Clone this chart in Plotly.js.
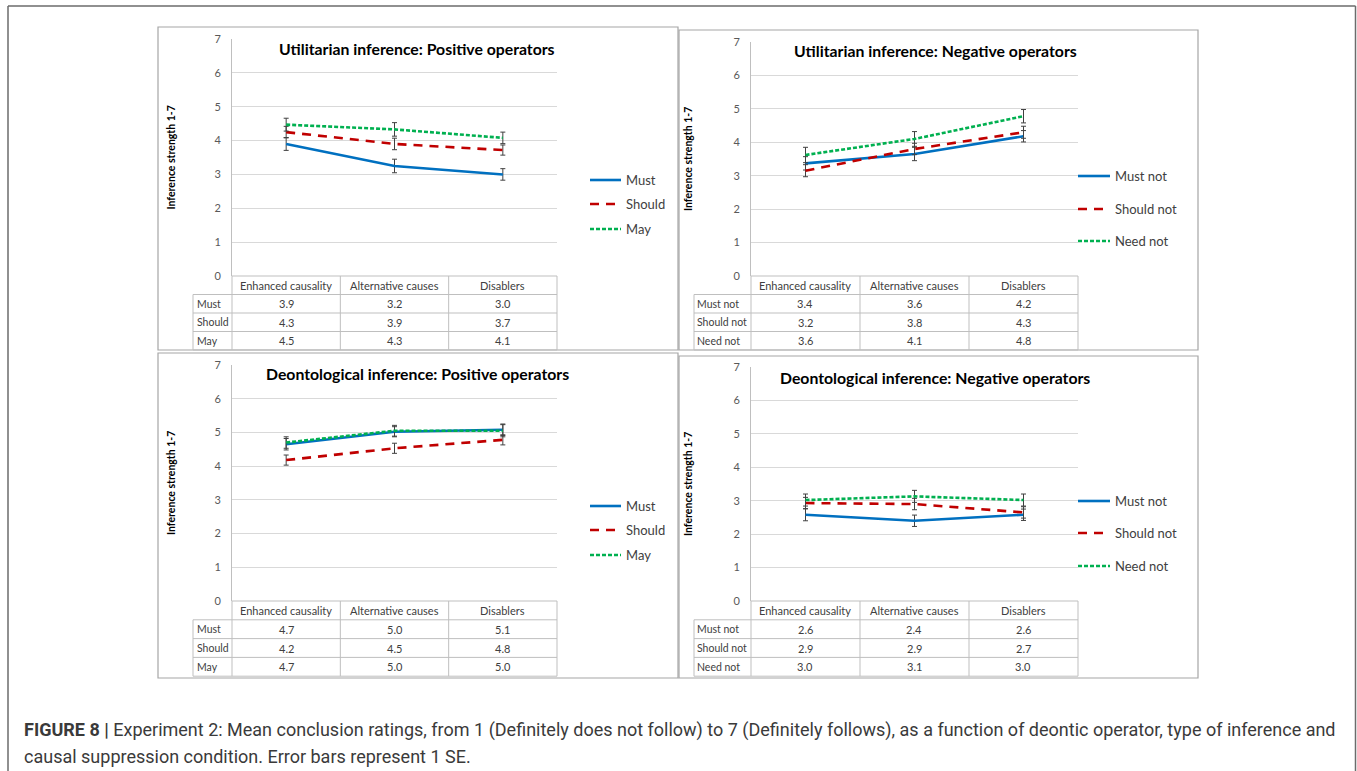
<!DOCTYPE html>
<html><head><meta charset="utf-8">
<script src="https://cdn.plot.ly/plotly-3.0.1.min.js"></script>
<style>html,body{margin:0;padding:0;background:#fff}#chart{width:1357px;height:771px}</style>
</head><body><div id="chart"></div>
<script>
// ---------- data ----------
const categories = ["Enhanced causality", "Alternative causes", "Disablers"];
const positiveOperators = ["Must", "Should", "May"];
const negativeOperators = ["Must not", "Should not", "Need not"];
const yTickValues = [0, 1, 2, 3, 4, 5, 6, 7];

// plotted means (rows = operators, cols = categories)
const utilPosMeans = [[3.90, 3.25, 3.00], [4.25, 3.90, 3.72], [4.47, 4.33, 4.08]];
const utilNegMeans = [[3.37, 3.65, 4.18], [3.15, 3.80, 4.30], [3.62, 4.10, 4.78]];
const deonPosMeans = [[4.65, 5.02, 5.08], [4.18, 4.53, 4.78], [4.70, 5.05, 5.05]];
const deonNegMeans = [[2.58, 2.40, 2.58], [2.93, 2.90, 2.65], [3.02, 3.13, 3.02]];

// standard errors
const utilPosSE = [[0.19, 0.20, 0.17], [0.17, 0.17, 0.15], [0.19, 0.20, 0.17]];
const utilNegSE = [[0.20, 0.20, 0.17], [0.18, 0.17, 0.18], [0.23, 0.22, 0.20]];
const deonPosSE = [[0.17, 0.15, 0.17], [0.15, 0.15, 0.15], [0.17, 0.16, 0.18]];
const deonNegSE = [[0.18, 0.17, 0.17], [0.17, 0.17, 0.17], [0.18, 0.18, 0.18]];

// data table values
const utilPosTable = [[3.9, 3.2, 3.0], [4.3, 3.9, 3.7], [4.5, 4.3, 4.1]];
const utilNegTable = [[3.4, 3.6, 4.2], [3.2, 3.8, 4.3], [3.6, 4.1, 4.8]];
const deonPosTable = [[4.7, 5.0, 5.1], [4.2, 4.5, 4.8], [4.7, 5.0, 5.0]];
const deonNegTable = [[2.6, 2.4, 2.6], [2.9, 2.9, 2.7], [3.0, 3.1, 3.0]];

const panelTitles = [
  "Utilitarian inference: Positive operators",
  "Utilitarian inference: Negative operators",
  "Deontological inference: Positive operators",
  "Deontological inference: Negative operators"
];
const yAxisTitle = "Inference strength 1-7";
const captionBold = "FIGURE 8 |";
const captionLine1 = " Experiment 2: Mean conclusion ratings, from 1 (Definitely does not follow) to 7 (Definitely follows), as a function of deontic operator, type of inference and";
const captionLine2 = "causal suppression condition. Error bars represent 1 SE.";

// ---------- layout / style ----------
const W = 1357, H = 771;
const px = v => v / W;
const py = v => 1 - v / H;
const FONT = "Lato, 'Open Sans', sans-serif";
const colors = ["#0070C0", "#C00000", "#00B050"];
const dashes = ["solid", "9px,7px", "4px,2px"];

const panels = [
  {title: panelTitles[0], ops: positiveOperators, means: utilPosMeans, se: utilPosSE, table: utilPosTable,
   box: [158, 27, 678, 350], plot: [232, 39, 557, 276], labelLeft: 193, rowH: 18.5,
   titleX: 417, titleY: 48, yTitleX: 171, legY: [180, 204, 229], legX0: 590, legX1: 621, legTextX: 624},
  {title: panelTitles[1], ops: negativeOperators, means: utilNegMeans, se: utilNegSE, table: utilNegTable,
   box: [679, 30, 1198, 350], plot: [751, 42, 1078, 276], labelLeft: 694, rowH: 18.5,
   titleX: 935, titleY: 51, yTitleX: 688, legY: [176, 209, 241], legX0: 1078, legX1: 1110, legTextX: 1113},
  {title: panelTitles[2], ops: positiveOperators, means: deonPosMeans, se: deonPosSE, table: deonPosTable,
   box: [158, 353, 678, 678], plot: [232, 365, 557, 601], labelLeft: 193, rowH: 18.8,
   titleX: 417, titleY: 373, yTitleX: 171, legY: [506, 530, 555], legX0: 590, legX1: 621, legTextX: 624},
  {title: panelTitles[3], ops: negativeOperators, means: deonNegMeans, se: deonNegSE, table: deonNegTable,
   box: [679, 356, 1198, 678], plot: [751, 367, 1078, 601], labelLeft: 694, rowH: 18.8,
   titleX: 935, titleY: 377, yTitleX: 688, legY: [501, 533, 566], legX0: 1078, legX1: 1110, legTextX: 1113}
];

const traces = [];
const shapes = [];
const annotations = [];
const layout = {
  width: W, height: H,
  margin: {l: 0, r: 0, t: 0, b: 0},
  paper_bgcolor: "#fff", plot_bgcolor: "#fff",
  showlegend: false,
  font: {family: FONT, color: "#404040"}
};

// outer frame
const frameCol = "#6b6b6b";
shapes.push({type: "line", xref: "paper", yref: "paper", x0: px(8), x1: px(8), y0: py(6), y1: py(790), line: {color: frameCol, width: 1.5}});
shapes.push({type: "line", xref: "paper", yref: "paper", x0: px(8), x1: px(1355.5), y0: py(6), y1: py(6), line: {color: frameCol, width: 1.5}});
shapes.push({type: "line", xref: "paper", yref: "paper", x0: px(1355.5), x1: px(1355.5), y0: py(6), y1: py(790), line: {color: frameCol, width: 1.5}});

panels.forEach((p, k) => {
  const sfx = k === 0 ? "" : String(k + 1);
  const xa = "x" + sfx, ya = "y" + sfx;
  const [L, T, R, B] = p.plot;

  layout["xaxis" + sfx] = {
    domain: [px(L), px(R)], anchor: ya, type: "category",
    range: [-0.5, 2.5], showgrid: false, zeroline: false, showline: false,
    showticklabels: false, ticks: "", fixedrange: true
  };
  layout["yaxis" + sfx] = {
    domain: [py(B), py(T)], anchor: xa,
    range: [0, 7], tickvals: yTickValues, showgrid: true, gridcolor: "#D9D9D9", gridwidth: 1,
    zeroline: false, showline: true, linecolor: "#BFBFBF", linewidth: 1, ticks: "",
    ticklabelstandoff: 8,
    tickfont: {family: FONT, size: 11, color: "#595959"}, fixedrange: true
  };

  // series lines with error bars
  p.ops.forEach((name, i) => {
    traces.push({
      type: "scatter", mode: "lines", name: name,
      x: categories, y: p.means[i], xaxis: xa, yaxis: ya,
      line: {color: colors[i], width: 2.6, dash: dashes[i]},
      error_y: {type: "data", array: p.se[i], visible: true, color: "#404040", thickness: 1, width: 2.5},
      hoverinfo: "x+y+name"
    });
  });

  // panel border
  shapes.push({type: "rect", xref: "paper", yref: "paper", x0: px(p.box[0]), x1: px(p.box[2]), y0: py(p.box[3]), y1: py(p.box[1]),
               line: {color: "#A6A6A6", width: 1.2}, fillcolor: "rgba(0,0,0,0)"});

  // data table grid
  const tCol = "#BFBFBF";
  const colW = (R - L) / categories.length;
  const rh = p.rowH;
  const tableBottom = B + rh * (p.ops.length + 1);
  for (let r = 0; r <= p.ops.length + 1; r++) {
    const yy = B + r * rh;
    const x0 = r <= 0 ? L : p.labelLeft;
    shapes.push({type: "line", xref: "paper", yref: "paper", x0: px(x0), x1: px(R), y0: py(yy), y1: py(yy), line: {color: tCol, width: 1}});
  }
  for (let c = 0; c <= categories.length; c++) {
    const xx = L + c * colW;
    shapes.push({type: "line", xref: "paper", yref: "paper", x0: px(xx), x1: px(xx), y0: py(B), y1: py(tableBottom), line: {color: tCol, width: 1}});
  }
  shapes.push({type: "line", xref: "paper", yref: "paper", x0: px(p.labelLeft), x1: px(p.labelLeft), y0: py(B + rh), y1: py(tableBottom), line: {color: tCol, width: 1}});

  // header (category names)
  categories.forEach((c, j) => {
    annotations.push({xref: xa, yref: "paper", x: j, y: py(B + rh / 2), text: c, showarrow: false,
                      xanchor: "center", yanchor: "middle", font: {family: FONT, size: 11, color: "#404040"}});
  });
  // rows
  p.ops.forEach((name, i) => {
    const yc = py(B + rh * (i + 1) + rh / 2);
    annotations.push({xref: "paper", yref: "paper", x: px(p.labelLeft + 1.5), y: yc, text: name, showarrow: false,
                      xanchor: "left", yanchor: "middle", font: {family: FONT, size: 10.5, color: "#404040"}});
    p.table[i].forEach((v, j) => {
      annotations.push({xref: xa, yref: "paper", x: j, y: yc, text: v.toFixed(1), showarrow: false,
                        xanchor: "center", yanchor: "middle", font: {family: FONT, size: 11, color: "#404040"}});
    });
  });

  // chart title
  annotations.push({xref: "paper", yref: "paper", x: px(p.titleX), y: py(p.titleY), text: "<b>" + p.title + "</b>",
                    showarrow: false, xanchor: "center", yanchor: "middle", font: {family: FONT, size: 15.8, color: "#000"}});
  // y-axis title
  annotations.push({xref: "paper", yref: "paper", x: px(p.yTitleX), y: py((T + B) / 2), text: "<b>" + yAxisTitle + "</b>",
                    textangle: -90, showarrow: false, xanchor: "center", yanchor: "middle", font: {family: FONT, size: 10.5, color: "#000"}});

  // legend (drawn manually to match spacing)
  p.ops.forEach((name, i) => {
    shapes.push({type: "line", xref: "paper", yref: "paper", x0: px(p.legX0), x1: px(p.legX1), y0: py(p.legY[i]), y1: py(p.legY[i]),
                 line: {color: colors[i], width: 2.6, dash: dashes[i]}});
    annotations.push({xref: "paper", yref: "paper", x: px(p.legTextX), y: py(p.legY[i]), text: name, showarrow: false,
                      xanchor: "left", yanchor: "middle", font: {family: FONT, size: 13, color: "#404040"}});
  });
});

// caption
const capFont = {family: "Roboto, 'Liberation Sans', sans-serif", size: 18, color: "#3a3a3a"};
annotations.push({xref: "paper", yref: "paper", x: px(22), y: py(730), text: "<b>" + captionBold + "</b>" + captionLine1,
                  showarrow: false, xanchor: "left", yanchor: "middle", font: capFont});
annotations.push({xref: "paper", yref: "paper", x: px(22), y: py(756), text: captionLine2,
                  showarrow: false, xanchor: "left", yanchor: "middle", font: capFont});

layout.shapes = shapes;
layout.annotations = annotations;

Plotly.newPlot("chart", traces, layout, {displayModeBar: false, staticPlot: true});
</script>
</body></html>
